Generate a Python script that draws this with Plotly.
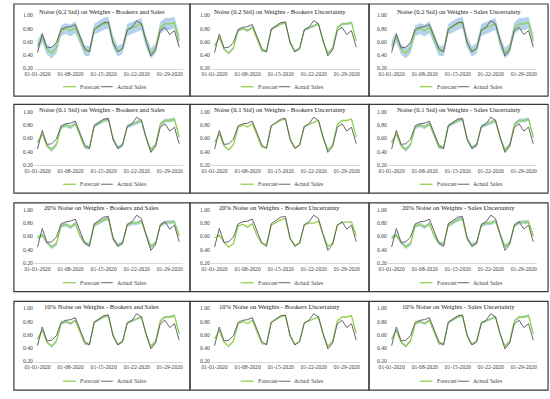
import plotly.graph_objects as go

# ---------------- data ----------------
dates = ["01-01-2020", "01-02-2020", "01-03-2020", "01-04-2020", "01-05-2020", "01-06-2020",
         "01-07-2020", "01-08-2020", "01-09-2020", "01-10-2020", "01-11-2020", "01-12-2020",
         "01-13-2020", "01-14-2020", "01-15-2020", "01-16-2020", "01-17-2020", "01-18-2020",
         "01-19-2020", "01-20-2020", "01-21-2020", "01-22-2020", "01-23-2020", "01-24-2020",
         "01-25-2020", "01-26-2020", "01-27-2020", "01-28-2020", "01-29-2020", "01-30-2020",
         "01-31-2020"]
x_tick_labels = ["01-01-2020", "01-08-2020", "01-15-2020", "01-22-2020", "01-29-2020"]
y_tick_vals = [0.2, 0.4, 0.6, 0.8, 1.0]
y_tick_text = ["0.20", "0.40", "0.60", "0.80", "1.00"]

actual_sales = [0.44, 0.72, 0.51, 0.52, 0.59, 0.79, 0.82, 0.83, 0.86, 0.67, 0.50, 0.45, 0.79, 0.84,
                0.89, 0.90, 0.58, 0.45, 0.50, 0.78, 0.82, 0.92, 0.87, 0.62, 0.39, 0.48, 0.77, 0.82,
                0.71, 0.77, 0.52]

forecast_std = [0.54, 0.67, 0.49, 0.43, 0.51, 0.77, 0.80, 0.77, 0.82, 0.64, 0.47, 0.46, 0.79, 0.83,
                0.87, 0.89, 0.60, 0.46, 0.50, 0.78, 0.81, 0.83, 0.87, 0.60, 0.43, 0.50, 0.81, 0.87,
                0.87, 0.89, 0.62]
forecast_pct20 = [0.58, 0.62, 0.51, 0.44, 0.49, 0.76, 0.78, 0.74, 0.79, 0.61, 0.50, 0.48, 0.77, 0.81,
                  0.85, 0.87, 0.56, 0.47, 0.50, 0.77, 0.80, 0.80, 0.83, 0.63, 0.45, 0.50, 0.77, 0.81,
                  0.81, 0.82, 0.61]

band_hi_02 = [0.62, 0.75, 0.57, 0.51, 0.59, 0.85, 0.88, 0.86, 0.91, 0.73, 0.55, 0.54, 0.87, 0.92,
              0.96, 0.98, 0.69, 0.54, 0.58, 0.87, 0.90, 0.92, 0.96, 0.69, 0.51, 0.58, 0.90, 0.96,
              0.96, 0.98, 0.71]
band_lo_02 = [0.46, 0.59, 0.41, 0.35, 0.43, 0.69, 0.72, 0.68, 0.73, 0.55, 0.39, 0.38, 0.71, 0.74,
              0.78, 0.80, 0.51, 0.38, 0.42, 0.69, 0.72, 0.74, 0.78, 0.51, 0.35, 0.42, 0.72, 0.78,
              0.78, 0.80, 0.53]
band_hi_01 = [0.57, 0.70, 0.52, 0.46, 0.54, 0.80, 0.83, 0.80, 0.85, 0.67, 0.50, 0.49, 0.82, 0.86,
              0.90, 0.92, 0.63, 0.49, 0.53, 0.81, 0.84, 0.86, 0.90, 0.63, 0.46, 0.53, 0.84, 0.90,
              0.90, 0.92, 0.65]
band_lo_01 = [0.51, 0.64, 0.46, 0.40, 0.48, 0.74, 0.77, 0.74, 0.79, 0.61, 0.44, 0.43, 0.76, 0.80,
              0.84, 0.86, 0.57, 0.43, 0.47, 0.75, 0.78, 0.80, 0.84, 0.57, 0.40, 0.47, 0.78, 0.84,
              0.84, 0.86, 0.59]
band_hi_20 = [0.61, 0.65, 0.54, 0.47, 0.52, 0.79, 0.81, 0.77, 0.82, 0.64, 0.53, 0.51, 0.80, 0.84,
              0.88, 0.90, 0.59, 0.50, 0.53, 0.80, 0.83, 0.83, 0.86, 0.66, 0.48, 0.53, 0.80, 0.84,
              0.84, 0.85, 0.64]
band_lo_20 = [0.55, 0.59, 0.48, 0.41, 0.46, 0.73, 0.75, 0.71, 0.76, 0.58, 0.47, 0.45, 0.74, 0.78,
              0.82, 0.84, 0.53, 0.44, 0.47, 0.74, 0.77, 0.77, 0.80, 0.60, 0.42, 0.47, 0.74, 0.78,
              0.78, 0.79, 0.58]
band_hi_10 = [0.56, 0.69, 0.51, 0.45, 0.53, 0.79, 0.82, 0.79, 0.84, 0.66, 0.49, 0.48, 0.81, 0.85,
              0.89, 0.91, 0.62, 0.48, 0.52, 0.80, 0.83, 0.85, 0.89, 0.62, 0.45, 0.52, 0.83, 0.89,
              0.89, 0.91, 0.64]
band_lo_10 = [0.52, 0.65, 0.47, 0.41, 0.49, 0.75, 0.78, 0.75, 0.80, 0.62, 0.45, 0.44, 0.77, 0.81,
              0.85, 0.87, 0.58, 0.44, 0.48, 0.76, 0.79, 0.81, 0.85, 0.58, 0.41, 0.48, 0.79, 0.85,
              0.85, 0.87, 0.60]

row_prefixes = ["Noise (0.2 Std) on Weights", "Noise (0.1 Std) on Weights",
                "20% Noise on Weights", "10% Noise on Weights"]
col_suffixes = ["Bookers and Sales", "Bookers Uncertainty", "Sales Uncertainty"]

row_forecasts = [forecast_std, forecast_std, forecast_pct20, forecast_std]
row_bands = [(band_lo_02, band_hi_02), (band_lo_01, band_hi_01),
             (band_lo_20, band_hi_20), (band_lo_10, band_hi_10)]

# ---------------- style / layout ----------------
W, H = 550, 399
GREEN = "#92D050"
GRAY = "#666666"
BAND = "rgba(91,155,213,0.45)"
FONT = "Liberation Serif"

col_d0 = [29, 209, 389]
col_box = [(5, 184), (184, 366), (366, 548)]
row_box = [(1, 94.5), (103, 193), (203, 293), (303, 393)]
row_top = [12.5, 110.5, 210, 310]
plot_h = 54
day_px = 4.8
title_y = [9.3, 109, 208, 308]
legend_y = [85, 184, 284, 384]


def fx(px):
    return px / W


def fy(py):
    return 1 - py / H


fig = go.Figure()
layout = {}
shapes = []
annotations = []

for r in range(4):
    for c in range(3):
        i = r * 3 + c + 1
        sfx = "" if i == 1 else str(i)
        xa, ya = "x" + sfx, "y" + sfx
        fc = row_forecasts[r]
        lo, hi = row_bands[r]
        show_band = c != 1 or r == 0
        if c == 1 and r == 0:
            lo, hi = band_lo_10, band_hi_10
        if show_band:
            fig.add_trace(go.Scatter(x=dates, y=lo, mode="lines", line=dict(width=0, color=BAND),
                                     showlegend=False, hoverinfo="skip", xaxis=xa, yaxis=ya))
            fig.add_trace(go.Scatter(x=dates, y=hi, mode="lines", line=dict(width=0, color=BAND),
                                     fill="tonexty", fillcolor=BAND, showlegend=False,
                                     hoverinfo="skip", xaxis=xa, yaxis=ya))
        fig.add_trace(go.Scatter(x=dates, y=fc, mode="lines", name="Forecast",
                                 line=dict(color=GREEN, width=1.3), showlegend=False,
                                 xaxis=xa, yaxis=ya))
        fig.add_trace(go.Scatter(x=dates, y=actual_sales, mode="lines", name="Actual Sales",
                                 line=dict(color=GRAY, width=1), showlegend=False,
                                 xaxis=xa, yaxis=ya))

        d0 = col_d0[c]
        x0 = d0 - 0.8 * day_px
        x1 = d0 + 30.8 * day_px
        layout["xaxis" + sfx] = dict(
            domain=[fx(x0), fx(x1)], anchor=ya, type="category", range=[-0.8, 30.8],
            tickmode="array", tickvals=x_tick_labels, ticktext=x_tick_labels,
            showgrid=False, showline=True, linecolor="#D9D9D9", linewidth=1, ticks="",
            zeroline=False, tickfont=dict(family=FONT, size=5.6, color="#404040"), fixedrange=True)
        t = row_top[r]
        layout["yaxis" + sfx] = dict(
            domain=[fy(t + plot_h), fy(t)], anchor=xa, range=[0.2, 1.0],
            tickmode="array", tickvals=y_tick_vals, ticktext=y_tick_text,
            showgrid=False, showline=False, zeroline=False, ticks="",
            tickfont=dict(family=FONT, size=5.6, color="#404040"), fixedrange=True)

        # panel border
        bx0, bx1 = col_box[c]
        by0, by1 = row_box[r]
        shapes.append(dict(type="rect", xref="paper", yref="paper",
                           x0=fx(bx0), x1=fx(bx1), y0=fy(by1), y1=fy(by0),
                           line=dict(color="#3A3A3A", width=1.2), fillcolor="rgba(0,0,0,0)"))
        cx = (bx0 + bx1) / 2
        # title
        annotations.append(dict(text=f"{row_prefixes[r]} - {col_suffixes[c]}", xref="paper",
                                yref="paper", x=fx(cx), y=fy(title_y[r]), xanchor="center",
                                yanchor="middle", showarrow=False,
                                font=dict(family=FONT, size=6.6, color="#1A1A1A")))
        # legend (drawn)
        ly = fy(legend_y[r])
        shapes.append(dict(type="line", xref="paper", yref="paper", x0=fx(cx - 39.5),
                           x1=fx(cx - 26.5), y0=ly, y1=ly, line=dict(color=GREEN, width=1.3)))
        annotations.append(dict(text="Forecast", xref="paper", yref="paper", x=fx(cx - 24),
                                y=ly, xanchor="left", yanchor="middle", showarrow=False,
                                font=dict(family=FONT, size=5.8, color="#404040")))
        shapes.append(dict(type="line", xref="paper", yref="paper", x0=fx(cx - 1),
                           x1=fx(cx + 11), y0=ly, y1=ly, line=dict(color=GRAY, width=1)))
        annotations.append(dict(text="Actual Sales", xref="paper", yref="paper", x=fx(cx + 13),
                                y=ly, xanchor="left", yanchor="middle", showarrow=False,
                                font=dict(family=FONT, size=5.8, color="#404040")))

fig.update_layout(
    width=W, height=H, margin=dict(l=0, r=0, t=0, b=0),
    paper_bgcolor="white", plot_bgcolor="white", showlegend=False,
    shapes=shapes, annotations=annotations, **layout)

fig.write_html("out.html", config={"displayModeBar": False, "staticPlot": True},
               post_script="document.body.style.margin='0';document.body.style.overflow='hidden';")
